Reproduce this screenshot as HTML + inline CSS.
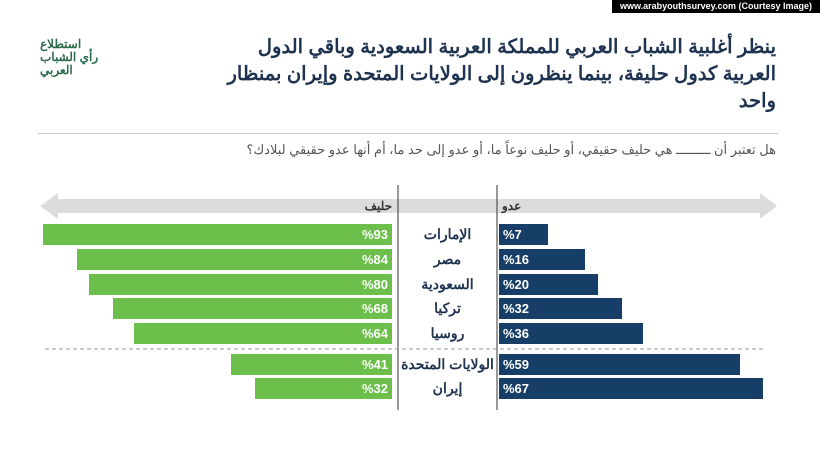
<!DOCTYPE html>
<html><head><meta charset="utf-8"><style>
body{margin:0;width:820px;height:462px;background:#fff;position:relative;overflow:hidden;font-family:"Liberation Sans","Noto Sans CJK SC",sans-serif}
.a{position:absolute}
.g{position:absolute;background:#6cbf4a;height:21px;color:#fff;font-size:13px;font-weight:bold;line-height:21px;text-align:right;padding-right:4px;box-sizing:border-box}
.b{position:absolute;background:#173e67;height:21px;color:#fff;font-size:13px;font-weight:bold;line-height:21px;padding-left:4px;box-sizing:border-box;left:499px}
.l{position:absolute;left:398px;width:99px;text-align:center;font-size:14px;font-weight:bold;color:#1f3350;height:21px;line-height:21px}
</style></head><body>
<div class="a" style="left:612px;top:0;width:208px;height:13px;background:#000;color:#fff;font-size:9px;font-weight:bold;line-height:13px;text-align:center">www.arabyouthsurvey.com (Courtesy Image)</div>
<div class="a" style="left:40px;top:38px;width:90px;height:58px;color:#2d6b4c;font-size:12px;font-weight:bold;line-height:13px;text-align:left" dir="rtl">استطلاع<br>رأي الشباب<br>العربي</div>
<div class="a" dir="rtl" style="left:150px;top:34px;width:626px;font-size:19.5px;font-weight:bold;color:#1e3350;line-height:27px;text-align:right;white-space:nowrap">ينظر أغلبية الشباب العربي للمملكة العربية السعودية وباقي الدول<br>العربية كدول حليفة، بينما ينظرون إلى الولايات المتحدة وإيران بمنظار<br>واحد</div>
<div class="a" style="left:38px;top:133px;width:740px;height:1px;background:#ccc"></div>
<div class="a" dir="rtl" style="left:200px;top:142px;width:576px;font-size:13px;color:#555;text-align:right">هل تعتبر أن ـــــــــ هي حليف حقيقي، أو حليف نوعاً ما، أو عدو إلى حد ما، أم أنها عدو حقيقي لبلادك؟</div>
<svg class="a" style="left:0;top:0" width="820" height="462">
<polygon points="40,206 58,193 58,199 760,199 760,193 777,206 760,219 760,213 58,213 58,219" fill="#dcdcdc"/>
<line x1="398" y1="185" x2="398" y2="410" stroke="#333" stroke-width="1"/>
<line x1="497" y1="185" x2="497" y2="410" stroke="#333" stroke-width="1"/>
<line x1="45" y1="349" x2="765" y2="349" stroke="#999" stroke-dasharray="4,3"/>
</svg>
<div class="a" style="left:350px;top:199px;width:42px;text-align:right;font-size:12px;font-weight:bold;color:#333">حليف</div>
<div class="a" style="left:502px;top:199px;font-size:12px;font-weight:bold;color:#333">عدو</div>
<div class="g" style="left:43px;top:224px;width:349px">%93</div><div class="l" style="top:224px">الإمارات</div><div class="b" style="top:224px;width:49px">%7</div>
<div class="g" style="left:77px;top:249px;width:315px">%84</div><div class="l" style="top:249px">مصر</div><div class="b" style="top:249px;width:86px">%16</div>
<div class="g" style="left:89px;top:274px;width:303px">%80</div><div class="l" style="top:274px">السعودية</div><div class="b" style="top:274px;width:99px">%20</div>
<div class="g" style="left:113px;top:298px;width:279px">%68</div><div class="l" style="top:298px">تركيا</div><div class="b" style="top:298px;width:123px">%32</div>
<div class="g" style="left:134px;top:323px;width:258px">%64</div><div class="l" style="top:323px">روسيا</div><div class="b" style="top:323px;width:144px">%36</div>
<div class="g" style="left:231px;top:354px;width:161px">%41</div><div class="l" style="top:354px">الولايات المتحدة</div><div class="b" style="top:354px;width:241px">%59</div>
<div class="g" style="left:255px;top:378px;width:137px">%32</div><div class="l" style="top:378px">إيران</div><div class="b" style="top:378px;width:264px">%67</div>
</body></html>
